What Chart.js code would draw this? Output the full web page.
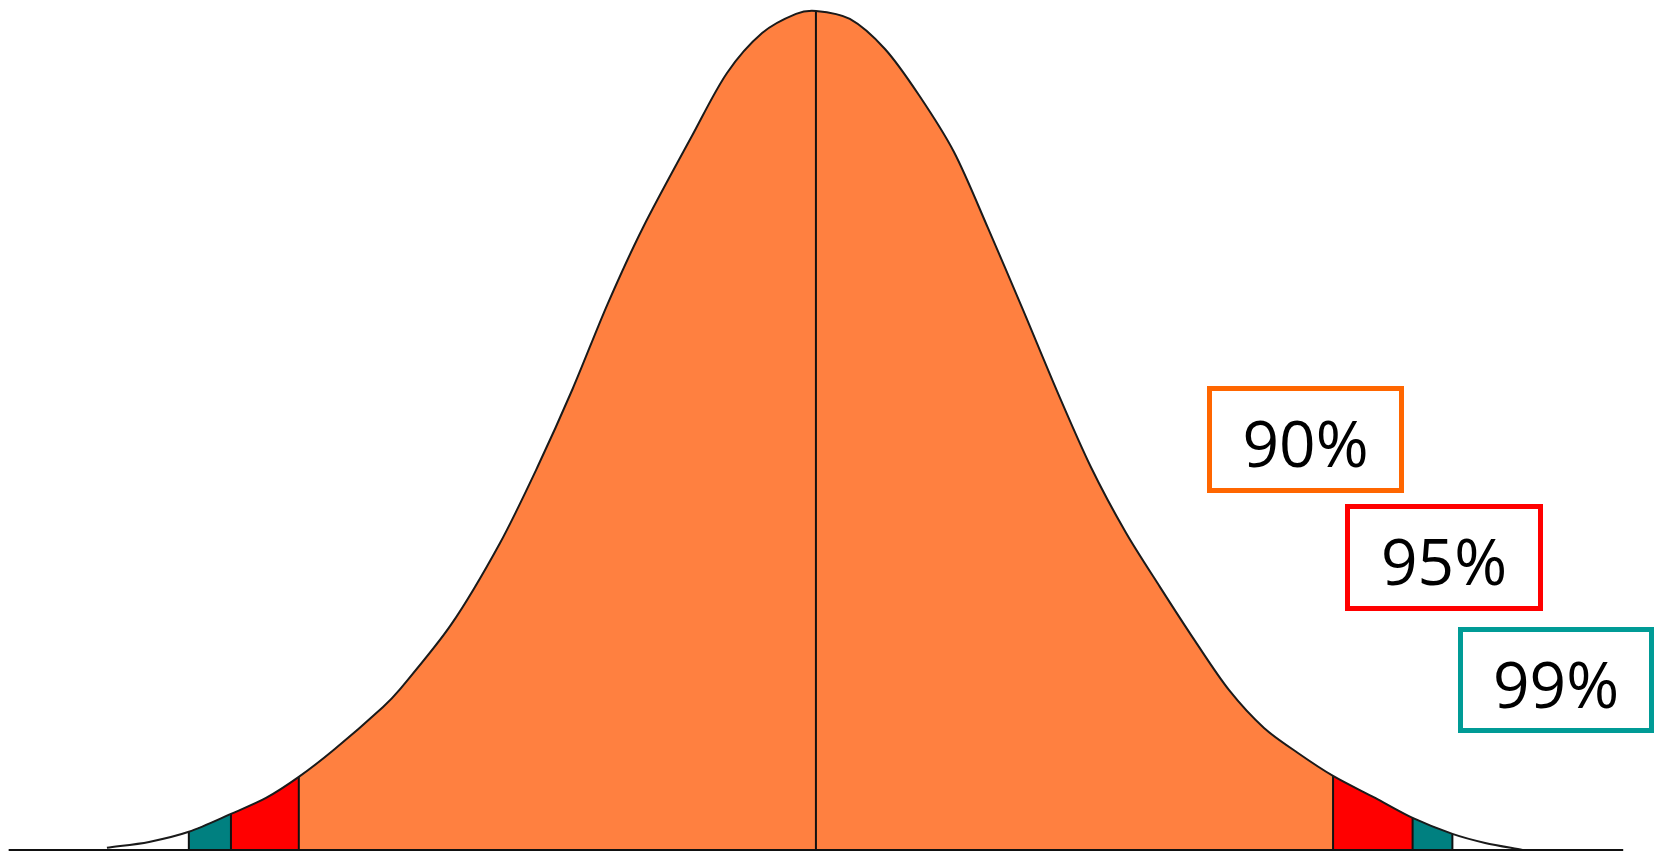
<!DOCTYPE html>
<html>
<head>
<meta charset="utf-8">
<script src="https://cdn.jsdelivr.net/npm/chart.js@4"></script>
<style>
  body { margin: 0; background: #fff; }
  #wrap { position: relative; width: 1659px; height: 852px; }
  .tag {
    position: absolute; box-sizing: border-box; background: #fff;
    border: 5px solid; display: flex; align-items: center; justify-content: center;
    font-family: "Comic Sans MS", "Open Sans", "DejaVu Sans", sans-serif; font-size: 64px;
    color: #000; padding-top: 6px;
  }
</style>
</head>
<body>
<div id="wrap">
  <canvas id="bell" width="1659" height="852"></canvas>
</div>
<script>
// --- Data (z in standard deviations, relative density) ---
const curveZ = [-3.03, -2.85, -2.68, -2.50, -2.35, -2.21, -2.06, -1.85, -1.78, -1.56, -1.35, -1.19, -1.04, -0.89, -0.74, -0.53, -0.38, -0.23, -0.085, 0,
                0.145, 0.295, 0.44, 0.59, 0.735, 0.885, 1.03, 1.175, 1.325, 1.47, 1.62, 1.765, 1.915, 2.06, 2.21, 2.39, 2.55, 2.72, 2.86, 3.02];
const curveDensity = [0.001, 0.0038, 0.0086, 0.0171, 0.0247, 0.0347, 0.0476, 0.068, 0.0761, 0.107, 0.146, 0.1821, 0.2192, 0.2597, 0.2958, 0.3395, 0.3695, 0.3885, 0.3976, 0.399,
                      0.3952, 0.3809, 0.359, 0.3319, 0.2958, 0.2568, 0.2183, 0.1821, 0.1508, 0.1251, 0.0994, 0.0761, 0.058, 0.0461, 0.0352, 0.0247, 0.0152, 0.0076, 0.0033, 0];
const levels = ['90%', '95%', '99%'];
const leftBounds = [-2.21, -2.50, -2.68];
const rightBounds = [2.21, 2.55, 2.72];
const baselineRange = [-3.45, 3.45];

// styles
const levelFill = ['#FF8040', '#FF0000', '#008080'];
const levelBorder = ['#FF6600', '#FF0000', '#009B96'];
const tagBoxes = [
    { left: 1207, top: 386, width: 197, height: 107 },
    { left: 1345, top: 504, width: 198, height: 107 },
    { left: 1458, top: 627, width: 196, height: 106 }
];

const points = curveZ.map((z, i) => ({ x: z, y: curveDensity[i] }));
const between = (lo, hi) => points.filter(p => p.x >= lo - 1e-9 && p.x <= hi + 1e-9);
const densityAt = z => {
    const p = points.find(q => Math.abs(q.x - z) < 1e-9);
    return p ? p.y : 0;
};

const datasets = [];
const tension = 0.3;

// shaded bands
function band(lo, hi, color) {
    datasets.push({
        data: between(lo, hi), fill: 'origin', backgroundColor: color,
        borderWidth: 0, pointRadius: 0, tension, order: 10
    });
}
band(leftBounds[0], rightBounds[0], levelFill[0]);
for (let i = 1; i < levels.length; i++) {
    band(leftBounds[i], leftBounds[i - 1], levelFill[i]);
    band(rightBounds[i - 1], rightBounds[i], levelFill[i]);
}

// outline of the curve
datasets.push({
    data: points, fill: false, borderColor: '#1a1a1a', borderWidth: 2,
    pointRadius: 0, tension, order: 1
});

// vertical dividers + centre line
[...leftBounds, 0, ...rightBounds].forEach(z => {
    datasets.push({
        data: [{ x: z, y: 0 }, { x: z, y: densityAt(z) }],
        fill: false, borderColor: '#111', borderWidth: 2, pointRadius: 0, order: 2
    });
});

// baseline
datasets.push({
    data: [{ x: baselineRange[0], y: 0 }, { x: baselineRange[1], y: 0 }],
    fill: false, borderColor: '#111', borderWidth: 2, pointRadius: 0, order: 0
});

new Chart(document.getElementById('bell').getContext('2d'), {
    type: 'line',
    data: { datasets },
    options: {
        responsive: false,
        animation: false,
        devicePixelRatio: 1,
        layout: { padding: 0 },
        scales: {
            x: { type: 'linear', min: -3.487, max: 3.603, display: false },
            y: { min: -0.001, max: 0.4042, display: false }
        },
        plugins: { legend: { display: false }, tooltip: { enabled: false } }
    }
});

// percentage tags
const wrap = document.getElementById('wrap');
levels.forEach((label, i) => {
    const el = document.createElement('div');
    el.className = 'tag';
    el.textContent = label;
    const b = tagBoxes[i];
    Object.assign(el.style, {
        left: b.left + 'px', top: b.top + 'px', width: b.width + 'px', height: b.height + 'px',
        borderColor: levelBorder[i]
    });
    wrap.appendChild(el);
});
</script>
</body>
</html>
